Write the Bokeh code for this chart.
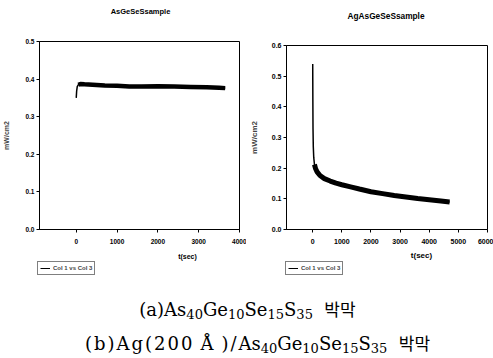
from bokeh.plotting import figure
from bokeh.models import Range1d, FixedTicker, PrintfTickFormatter, Legend, LegendItem, Label, Div
from bokeh.layouts import row, column
from bokeh.embed import file_html
from bokeh.resources import INLINE

# ---------------- data ----------------
left_title = "AsGeSeSsample"
right_title = "AgAsGeSeSsample"
y_label = "mW/cm2"
x_label = "t(sec)"
legend_label = "Col 1 vs Col 3"

left_t = [0, 10, 25, 50, 100, 200, 400, 700, 1000, 1300, 1600, 2000, 2400, 2800, 3200, 3500, 3650]
left_v = [0.350, 0.368, 0.380, 0.385, 0.387, 0.386, 0.385, 0.383, 0.382, 0.380, 0.380, 0.381,
          0.380, 0.379, 0.378, 0.377, 0.376]

right_t = [0, 5, 10, 20, 35, 60, 100, 150, 250, 400, 600, 800, 1000, 1300, 1600, 2000, 2400,
           2800, 3200, 3600, 4000, 4400, 4700]
right_v = [0.540, 0.420, 0.330, 0.270, 0.235, 0.212, 0.198, 0.188, 0.176, 0.166, 0.158, 0.151,
           0.146, 0.139, 0.132, 0.123, 0.117, 0.111, 0.106, 0.101, 0.097, 0.093, 0.090]

left_xticks = [0, 1000, 2000, 3000, 4000]
left_yticks = [0.0, 0.1, 0.2, 0.3, 0.4, 0.5]
right_xticks = [0, 1000, 2000, 3000, 4000, 5000, 6000]
right_yticks = [0.0, 0.1, 0.2, 0.3, 0.4, 0.5, 0.6]

FONT = "Liberation Sans"


def no_frame(p):
    try:
        p.frame_align = False
    except Exception:
        pass
    p.outline_line_color = None
    p.grid.visible = False
    return p


def strip(width, height):
    """A frameless figure whose plot area covers the whole canvas."""
    p = figure(width=width, height=height, output_backend="svg", toolbar_location=None,
               x_axis_type=None, y_axis_type=None, x_range=Range1d(0, 1), y_range=Range1d(1, 2),
               min_border=0, min_border_left=0, min_border_right=0, min_border_top=0,
               min_border_bottom=0, background_fill_color="white", border_fill_color="white")
    return no_frame(p)


def title_strip(text, width, cx, cy_from_bottom, fs):
    p = strip(width, 30)
    p.add_layout(Label(x=cx, y=cy_from_bottom, x_units="screen", y_units="screen", text=text,
                       text_align="center", text_baseline="middle", text_font=FONT,
                       text_font_style="bold", text_font_size=fs, text_color="black"))
    return p


def chart(t, v, thick_from, thick_w, x_lo, x_hi, y_hi, xticks, yticks, width, mb, sizes,
          ylab_standoff):
    tick_fs, lab_fs = sizes
    p = figure(width=width, height=220, output_backend="svg", toolbar_location=None,
               x_range=Range1d(x_lo, x_hi), y_range=Range1d(0, y_hi),
               min_border_left=mb[0], min_border_right=mb[1],
               min_border_top=mb[2], min_border_bottom=mb[3],
               background_fill_color="white", border_fill_color="white")
    no_frame(p)
    p.outline_line_color = "black"
    p.outline_line_width = 1
    for ax in (p.xaxis[0], p.yaxis[0]):
        ax.axis_line_color = "black"
        ax.major_tick_line_color = "black"
        ax.major_tick_out = 3
        ax.major_tick_in = 0
        ax.minor_tick_line_color = None
        ax.major_label_text_font = FONT
        ax.major_label_text_font_style = "bold"
        ax.major_label_text_font_size = tick_fs
        ax.major_label_text_color = "black"
    p.xaxis.ticker = FixedTicker(ticks=xticks)
    p.yaxis.ticker = FixedTicker(ticks=yticks)
    p.yaxis.formatter = PrintfTickFormatter(format="%.1f")
    p.xaxis.major_label_standoff = 6
    p.yaxis.major_label_standoff = 2
    p.yaxis.axis_label = y_label
    p.yaxis.axis_label_text_font = FONT
    p.yaxis.axis_label_text_font_style = "bold"
    p.yaxis.axis_label_text_font_size = lab_fs
    p.yaxis.axis_label_standoff = ylab_standoff

    p.line(t, v, line_color="black", line_width=1.5)
    p.line(t[thick_from:], v[thick_from:], line_color="black", line_width=thick_w)
    return p


def legend_strip(t, v, width, xlab_x, xlab_y, lab_fs, leg_x, leg_y):
    p = strip(width, 40)
    # same series, kept outside this strip's visible range; used only for the legend sample
    r = p.line(t, v, line_color="black", line_width=1)
    p.add_layout(Label(x=xlab_x, y=xlab_y, x_units="screen", y_units="screen", text=x_label,
                       text_align="center", text_baseline="middle", text_font=FONT,
                       text_font_style="bold", text_font_size=lab_fs, text_color="black"))
    leg = Legend(items=[LegendItem(label=legend_label, renderers=[r])], location=(leg_x, leg_y))
    leg.label_text_font = FONT
    leg.label_text_font_style = "bold"
    leg.label_text_font_size = "6px"
    leg.glyph_width = 10
    leg.glyph_height = 8
    leg.label_height = 8
    leg.label_standoff = 3
    leg.padding = 2
    leg.spacing = 0
    leg.margin = 0
    leg.border_line_color = "black"
    leg.border_line_width = 1
    leg.background_fill_color = "white"
    leg.background_fill_alpha = 1
    p.add_layout(leg, "center")
    return p


t1 = title_strip(left_title, 246, 140, 19, "7.5px")
t2 = title_strip(right_title, 247, 139.5, 15, "8.3px")
p1 = chart(left_t, left_v, 3, 4.5, -900, 4000, 0.5, left_xticks, left_yticks, 246,
           (38, 7, 11, 21), ("6.5px", "7px"), 12)
p2 = chart(right_t, right_v, 5, 5, -900, 6000, 0.6, right_xticks, right_yticks, 247,
           (38, 6, 15, 21), ("7px", "8px"), 10)
l1 = legend_strip(left_t, left_v, 246, 187, 34, "7px", 37, 15)
l2 = legend_strip(right_t, right_v, 247, 175, 35, "8px", 39, 15)

SUB = '<span style="font-size:13px;position:relative;top:3px;">%s</span>'
KO = '<span style="font-family:\'Noto Sans CJK KR\';font-size:17px;">%s</span>'
formula = "As" + SUB % "40" + "Ge" + SUB % "10" + "Se" + SUB % "15" + "S" + SUB % "35"
line_a = "(a)" + formula + "&nbsp;&nbsp;" + KO % "박막"
line_b = ('<span style="letter-spacing:2px;">(b)Ag(200<span style="margin:0 6px 0 6px;">Å</span>)/'
          '</span>' + formula + "&nbsp;&nbsp;" + KO % "박막")
LINE = ('<div style="box-sizing:border-box;width:493px;height:34px;line-height:34px;'
        'text-align:center;white-space:nowrap;padding-left:%dpx;">%s</div>')
html = ('<div style="font-family:\'DejaVu Serif\',\'Noto Sans CJK KR\';font-size:18px;'
        'color:#000;padding-top:2px;">' + LINE % (2, line_a) + LINE % (22, line_b) + "</div>")
cap = Div(text=html, width=493, height=66, margin=0)

layout = column(row(t1, t2, spacing=0), row(p1, p2, spacing=0), row(l1, l2, spacing=0), cap,
                spacing=0)
open("out.html", "w").write(file_html(layout, INLINE))
